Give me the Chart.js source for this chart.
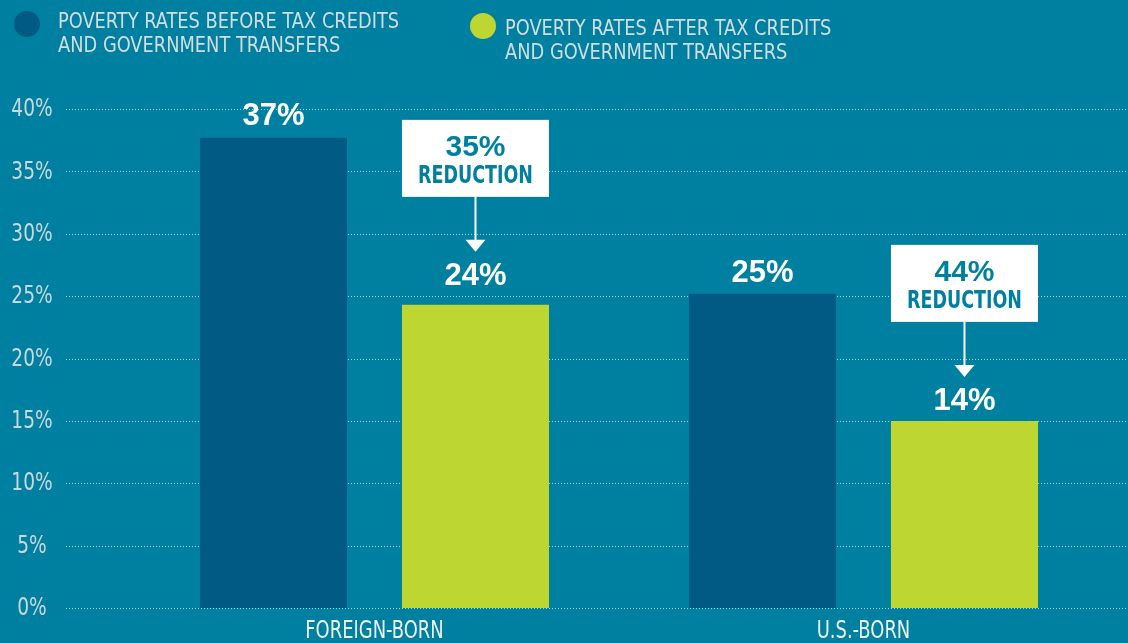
<!DOCTYPE html>
<html><head><meta charset="utf-8">
<script src="https://cdn.jsdelivr.net/npm/chart.js@4.4.1/dist/chart.umd.min.js"></script>
<style>
html,body{margin:0;padding:0;background:#0080A1;}
#wrap{position:relative;width:1128px;height:643px;overflow:hidden;background:#0080A1;}
#cbox{position:absolute;left:0;top:0;width:1128px;height:643px;}
.leg{position:absolute;color:#D3DCE0;font-family:"Liberation Sans Narrow","DejaVu Sans Condensed","Roboto",sans-serif;font-size:22px;line-height:24px;white-space:nowrap;transform-origin:0 0;}
.dot{position:absolute;width:26px;height:26px;border-radius:50%;}
</style></head>
<body><div id="wrap"><div id="cbox"><canvas id="c"></canvas></div></div>
<script>
// ---- data ----
const categories = ['FOREIGN-BORN', 'U.S.-BORN'];
const seriesNames = [
  ['POVERTY RATES BEFORE TAX CREDITS', 'AND GOVERNMENT TRANSFERS'],
  ['POVERTY RATES AFTER TAX CREDITS', 'AND GOVERNMENT TRANSFERS']
];
const beforeValues = [37.7, 25.2];
const afterValues = [24.3, 15.0];
const beforeLabels = ['37%', '25%'];
const afterLabels = ['24%', '14%'];
const reductionLabels = ['35%', '44%'];
const reductionWord = 'REDUCTION';
const yMax = 40;
const yStep = 5;

// ---- styles ----
const BG = '#0080A1';
const DARK = '#005A84';
const LIME = '#BED632';
const COND = '"Liberation Sans Narrow","DejaVu Sans Condensed","Roboto",sans-serif';
const BOLD = '"Liberation Sans","Arial",sans-serif';
const labelOffsets = [[22, 21], [29, 20]];

// legend (HTML text)
const wrap = document.getElementById('wrap');
const legPos = [{dx: 14, dy: 11, tx: 58, ty: 9}, {dx: 470, dy: 13, tx: 505, ty: 16}];
[DARK, LIME].forEach((col, i) => {
  const d = document.createElement('div');
  d.className = 'dot'; d.style.background = col;
  d.style.left = legPos[i].dx + 'px'; d.style.top = legPos[i].dy + 'px';
  wrap.appendChild(d);
  const t = document.createElement('div');
  t.className = 'leg';
  t.style.left = legPos[i].tx + 'px'; t.style.top = legPos[i].ty + 'px';
  t.style.transform = 'scaleX(0.9)';
  t.innerHTML = seriesNames[i].join('<br>');
  wrap.appendChild(t);
});

function condText(ctx, text, x, y, sx) {
  ctx.save();
  ctx.translate(x, y);
  ctx.scale(sx, 1);
  ctx.fillText(text, 0, 0);
  ctx.restore();
}

const gridPlugin = {
  id: 'dotgrid',
  beforeDatasetsDraw(chart) {
    const ctx = chart.ctx, y = chart.scales.y;
    ctx.save();
    ctx.strokeStyle = 'rgba(200,225,235,0.8)';
    ctx.lineWidth = 1;
    ctx.setLineDash([1, 2]);
    y.ticks.forEach(t => {
      const py = Math.round(y.getPixelForValue(t.value)) + 0.5;
      ctx.beginPath(); ctx.moveTo(66, py); ctx.lineTo(chart.width, py); ctx.stroke();
    });
    ctx.restore();
  }
};

// axis labels in a narrow (condensed) face, placed by the chart's own scales
const axisLabelPlugin = {
  id: 'axislabels',
  afterDraw(chart) {
    const ctx = chart.ctx, y = chart.scales.y, x = chart.scales.x;
    ctx.save();
    ctx.textAlign = 'center';
    ctx.textBaseline = 'middle';
    ctx.font = '24px ' + COND;
    ctx.fillStyle = '#CAD8DE';
    y.ticks.forEach(t => {
      condText(ctx, t.value + '%', 32, y.getPixelForValue(t.value) + 1, 0.86);
    });
    ctx.fillStyle = '#EEF4F6';
    categories.forEach((c, i) => {
      condText(ctx, c, x.getPixelForValue(i), chart.chartArea.bottom + 24, 0.83);
    });
    ctx.restore();
  }
};

const labelPlugin = {
  id: 'barlabels',
  afterDatasetsDraw(chart) {
    const ctx = chart.ctx;
    [beforeLabels, afterLabels].forEach((labs, di) => {
      const meta = chart.getDatasetMeta(di);
      meta.data.forEach((bar, i) => {
        const cy = bar.y - labelOffsets[di][i];
        ctx.save();
        ctx.fillStyle = '#FFFFFF';
        ctx.textAlign = 'center';
        ctx.textBaseline = 'middle';
        ctx.font = 'bold 31px ' + BOLD;
        ctx.fillText(labs[i], bar.x, cy + 1);
        if (di === 1) {
          const tip = cy - 24;
          const boxBottom = tip - 55;
          const boxH = 77;
          const boxTop = boxBottom - boxH;
          const left = bar.x - bar.width / 2;
          ctx.fillRect(left, boxTop, bar.width, boxH);
          ctx.strokeStyle = '#FFFFFF';
          ctx.lineWidth = 2;
          ctx.beginPath(); ctx.moveTo(bar.x, boxBottom); ctx.lineTo(bar.x, tip - 10); ctx.stroke();
          ctx.beginPath();
          ctx.moveTo(bar.x - 10, tip - 12); ctx.lineTo(bar.x + 10, tip - 12); ctx.lineTo(bar.x, tip);
          ctx.closePath(); ctx.fill();
          ctx.fillStyle = BG;
          ctx.font = 'bold 30px ' + BOLD;
          ctx.fillText(reductionLabels[i], bar.x, boxTop + 28);
          ctx.font = 'bold 24px ' + COND;
          condText(ctx, reductionWord, bar.x, boxTop + 57, 0.81);
        }
        ctx.restore();
      });
    });
  }
};

new Chart(document.getElementById('c'), {
  type: 'bar',
  data: {
    labels: categories,
    datasets: [
      {label: seriesNames[0].join(' '), data: beforeValues, backgroundColor: DARK, categoryPercentage: 0.826, barPercentage: 0.728},
      {label: seriesNames[1].join(' '), data: afterValues, backgroundColor: LIME, categoryPercentage: 0.826, barPercentage: 0.728}
    ]
  },
  options: {
    responsive: true,
    maintainAspectRatio: false,
    animation: false,
    devicePixelRatio: 1,
    layout: {padding: {left: 0, right: 20, top: 109, bottom: 0}},
    plugins: {legend: {display: false}, tooltip: {enabled: false}},
    scales: {
      x: {
        grid: {display: false, drawTicks: false},
        border: {display: false},
        ticks: {display: false},
        afterFit(s) { s.height = 35; s.paddingLeft = 0; s.paddingRight = 0; }
      },
      y: {
        min: 0, max: yMax,
        grid: {display: false, drawTicks: false},
        border: {display: false},
        ticks: {stepSize: yStep, display: false},
        afterFit(s) { s.width = 130; s.paddingTop = 0; s.paddingBottom = 0; }
      }
    }
  },
  plugins: [gridPlugin, labelPlugin, axisLabelPlugin]
});
</script>
</body></html>
